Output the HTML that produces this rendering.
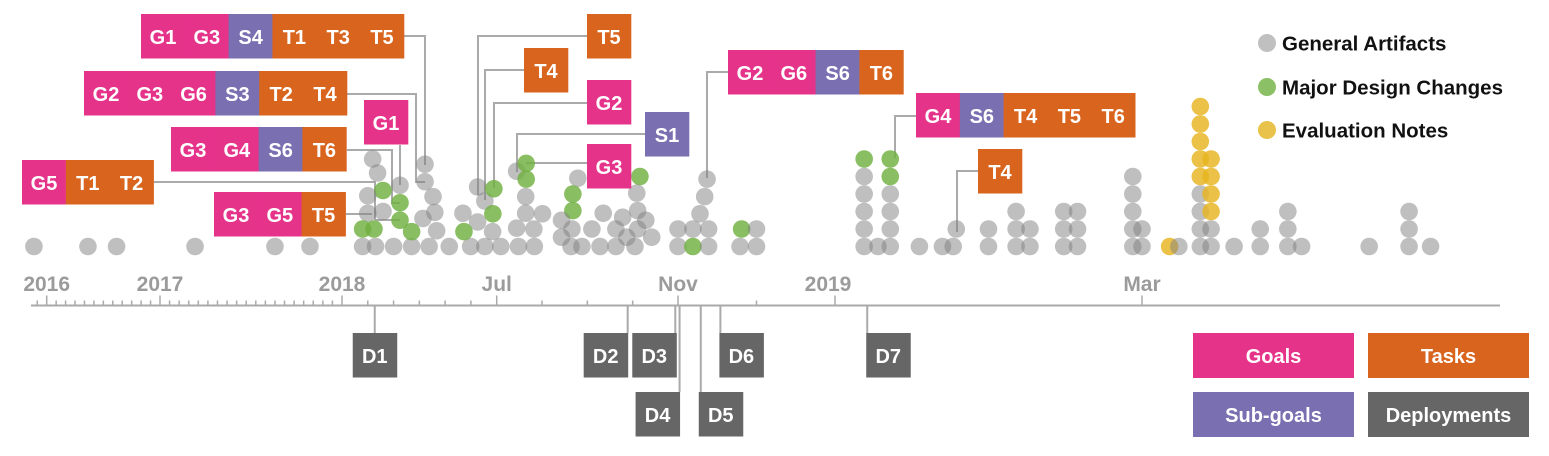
<!DOCTYPE html>
<html><head><meta charset="utf-8"><style>
body{margin:0;background:#fff;}
svg{display:block;font-family:"Liberation Sans",sans-serif;}
</style></head><body>
<svg id="chart" width="1549" height="456" viewBox="0 0 1549 456" xmlns="http://www.w3.org/2000/svg"></svg>
<script>
// ---- data ----
// months since Jan 2016 -> screen anchors of the (non-linear) timeline axis
const axisAnchorMonths = [-2, 0, 12, 24, 30, 34, 36, 38, 41];
const axisAnchorPx = [27.8, 46.7, 160, 342, 496.7, 678, 835, 1142, 1602.5];
const majorTickMonths = [0, 12, 24, 30, 34, 36, 38];
const majorTickLabels = ["2016", "2017", "2018", "Jul", "Nov", "2019", "Mar"];
const deployNames = ["D1","D2","D3","D4","D5","D6","D7"];
const deployMonths = [25.27, 32.89, 33.94, 34.02, 34.29, 34.54, 36.21];
const deployLevel = [0,0,0,1,1,0,0];
// artifacts: [month, stack row, type]  a=general, m=major design change, e=evaluation
const artifacts = [
 [-1.35,0,'a'],[4.37,0,'a'],[7.4,0,'a'],[14.31,0,'a'],[19.58,0,'a'],[21.89,0,'a'],
 [24.8,0,'a'],[25.3,0,'a'],[26.0,0,'a'],[26.7,0,'a'],[27.38,0,'a'],[28.16,0,'a'],[28.99,0,'a'],[29.54,0,'a'],
 [30.09,0,'a'],[30.48,0,'a'],[30.83,0,'a'],[31.64,0,'a'],[31.88,0,'a'],[32.28,0,'a'],[32.63,0,'a'],[33.05,0,'a'],
 [34.0,0,'a'],[34.19,0,'m'],[34.39,0,'a'],[34.79,0,'a'],[35.0,0,'a'],
 [25.19,5,'a'],[25.38,4.2,'a'],[25.59,3.2,'m'],[25.0,2.9,'a'],[26.25,3.5,'a'],[26.25,2.5,'m'],[25.0,1.9,'a'],
 [25.59,2,'a'],[26.25,1.5,'m'],[24.8,1,'m'],[25.24,1,'m'],[26.7,0.85,'m'],
 [27.22,4.7,'a'],[27.22,3.7,'a'],[27.53,2.85,'a'],[27.6,1.95,'a'],[27.14,1.6,'a'],[27.67,0.9,'a'],
 [28.69,1.9,'a'],[29.26,1.4,'a'],[28.73,0.85,'m'],[29.26,3.4,'a'],[29.54,2.6,'a'],[29.89,3.3,'m'],[29.85,1.87,'m'],[29.84,0.85,'a'],
 [30.44,4.3,'a'],[30.65,4.75,'m'],[30.65,3.85,'m'],[30.64,2.85,'a'],[30.64,1.9,'a'],[31.01,1.87,'a'],[30.44,1.05,'a'],[30.82,1,'a'],
 [31.79,3.9,'a'],[31.68,3,'m'],[31.68,2.05,'m'],[31.43,1.5,'a'],[31.66,1,'a'],[31.43,0.53,'a'],[32.1,1,'a'],[32.35,1.9,'a'],
 [32.78,1.67,'a'],[32.63,1,'a'],[32.87,0.53,'a'],
 [33.16,4,'m'],[33.09,3.05,'a'],[33.11,2.05,'a'],[33.29,1.5,'a'],[33.11,1,'a'],[33.42,0.53,'a'],
 [34.37,3.85,'a'],[34.34,2.85,'a'],[34.28,1.87,'a'],[34.0,1,'a'],[34.19,1,'a'],[34.39,1,'a'],[34.81,1,'m'],[35.0,1,'a'],
 [36.19,0,'a'],[36.19,1,'a'],[36.19,2,'a'],[36.19,3,'a'],[36.19,4,'a'],[36.19,5,'m'],
 [36.28,0,'a'],
 [36.36,0,'a'],[36.36,1,'a'],[36.36,2,'a'],[36.36,3,'a'],[36.36,4,'m'],[36.36,5,'m'],
 [36.55,0,'a'],[36.7,0,'a'],[36.77,0,'a'],[36.79,1,'a'],
 [37.0,0,'a'],[37.0,1,'a'],
 [37.18,0,'a'],[37.18,1,'a'],[37.18,2,'a'],[37.27,0,'a'],[37.27,1,'a'],
 [37.49,0,'a'],[37.49,1,'a'],[37.49,2,'a'],[37.58,0,'a'],[37.58,1,'a'],[37.58,2,'a'],
 [37.94,0,'a'],[37.94,1,'a'],[37.94,2,'a'],[37.94,3,'a'],[37.94,4,'a'],[38.0,0,'a'],[38.0,1,'a'],
 [38.18,0,'e'],[38.24,0,'a'],
 [38.38,0,'a'],[38.38,1,'a'],[38.38,2,'a'],[38.38,3,'a'],[38.38,4,'e'],[38.38,5,'e'],[38.38,6,'e'],[38.38,7,'e'],[38.38,8,'e'],
 [38.45,0,'a'],[38.45,1,'a'],[38.45,2,'e'],[38.45,3,'e'],[38.45,4,'e'],[38.45,5,'e'],
 [38.6,0,'a'],[38.77,0,'a'],[38.77,1,'a'],[38.95,0,'a'],[38.95,1,'a'],[38.95,2,'a'],[39.04,0,'a'],
 [39.48,0,'a'],[39.74,0,'a'],[39.74,1,'a'],[39.74,2,'a'],[39.88,0,'a']
];
// annotation label groups
const annoLabels = [
 ["G1","G3","S4","T1","T3","T5"],
 ["G2","G3","G6","S3","T2","T4"],
 ["G3","G4","S6","T6"],
 ["G1"],
 ["G5","T1","T2"],
 ["G3","G5","T5"],
 ["T5"],["T4"],["G2"],["S1"],["G3"],
 ["G2","G6","S6","T6"],
 ["G4","S6","T4","T5","T6"],
 ["T4"]
];
// ---- layout ----
const annoBox = [[141,14],[84,71],[171,127],[364,100],[22,160],[214,192],[587,14],[524,48],[587,80],[645,112],[587,144],[728,50],[916,93],[978,149]];
const annoPath = [
 "M404,36H425V165","M346,94H416V182H425","M347,150H392V203H400","M400,145V185","M154,182H375V220",
 "M346,214H372M375,220H400","M587,36H478V195","M524,70H485V200","M587,103H494V188","M645,134H517V172",
 "M587,163H526","M728,72H707V178","M916,116H895V158","M978,171H957V232"
];
const COL = {G:"#e6338a",T:"#d9641e",S:"#7a6fb0",D:"#666666"};
const DOT = {a:"rgba(128,128,128,0.5)",m:"rgba(112,176,64,0.82)",e:"rgba(230,180,30,0.82)"};
const NS = "http://www.w3.org/2000/svg";
const svg = document.getElementById("chart");
function mk(tag, attrs, parent){const e=document.createElementNS(NS,tag);for(const k in attrs)e.setAttribute(k,attrs[k]);(parent||svg).appendChild(e);return e;}
function xScale(t){
  for(let i=0;i<axisAnchorMonths.length-1;i++){
    const a=axisAnchorMonths[i],b=axisAnchorMonths[i+1];
    if(t<=b||i===axisAnchorMonths.length-2){return axisAnchorPx[i]+(t-a)/(b-a)*(axisAnchorPx[i+1]-axisAnchorPx[i]);}
  }
}
const baseY=246.5, rowH=17.5, R=8.8, axisY=305.5;
function yScale(r){return baseY-r*rowH;}

// axis
const axisG=mk("g",{});


mk("line",{x1:31,y1:axisY,x2:1500,y2:axisY,stroke:"#aaa","stroke-width":2},axisG);
const minor=[-1];
for(let m=1;m<12;m++)minor.push(m);
for(let k=1;k<19;k++)minor.push(12+k*12/19);
[25,26,27,28,29,31,32,33,35].forEach(m=>minor.push(m));
minor.forEach(t=>{const x=xScale(t);const l=mk("line",{x1:x,x2:x,y1:axisY-5,y2:axisY,stroke:"#aaa","stroke-width":1.5},axisG);

});
majorTickMonths.forEach((t,i)=>{const x=xScale(t);
 const l=mk("line",{x1:x,x2:x,y1:axisY-10,y2:axisY,stroke:"#aaa","stroke-width":1.5},axisG);
 
 
 const tx=mk("text",{x:x-(i===5?7:0),y:291,"text-anchor":"middle","font-size":21,"font-weight":"bold",fill:"#9b9b9b"},axisG);
 tx.textContent=majorTickLabels[i];
 
 
});

// deployments
deployNames.forEach((n,i)=>{
 const x=xScale(deployMonths[i]);const top=deployLevel[i]?392:333;
 const g=mk("g",{});
 
 
 mk("line",{x1:x,x2:x,y1:axisY,y2:top,stroke:"#aaa","stroke-width":2},g);
 let bx = x-22;
 if(n==="D2") bx=x-44; if(n==="D3") bx=x-43; if(n==="D4") bx=x-44; if(n==="D5") bx=x-2; if(n==="D6") bx=x-1; if(n==="D7") bx=x-1;
 mk("rect",{x:bx,y:top,width:44.5,height:44.5,fill:COL.D},g);
 const t=mk("text",{x:bx+22,y:top+30,"text-anchor":"middle","font-size":20,"font-weight":"bold",fill:"#fff"},g);t.textContent=n;
});

// connectors
annoPath.forEach(p=>{const e=mk("path",{d:p,fill:"none",stroke:"#aaa","stroke-width":2});

});

// dots
artifacts.forEach(d=>{
 const c=mk("circle",{cx:xScale(d[0]),cy:yScale(d[1]),r:R,fill:DOT[d[2]]});
 
 
});

// annotation boxes
annoLabels.forEach((labs,i)=>{
 const g=mk("g",{});
 
 
 const [x0,y0]=annoBox[i];
 labs.forEach((l,j)=>{
  mk("rect",{x:x0+j*43.8,y:y0,width:44.3,height:44.5,fill:COL[l[0]]},g);
  const t=mk("text",{x:x0+j*43.8+22,y:y0+30,"text-anchor":"middle","font-size":20,"font-weight":"bold",fill:"#fff"},g);
  t.textContent=l;
 });
});

// legend (dots)
[["a","General Artifacts",43],["m","Major Design Changes",87],["e","Evaluation Notes",130]].forEach(L=>{
 const g=mk("g",{});
 
 
 mk("circle",{cx:1267,cy:L[2],r:9,fill:L[0]==='a'?'#c0c0c0':(L[0]==='m'?'#8cc066':'#e9c24b')},g);
 const t=mk("text",{x:1282,y:L[2]+7.5,"font-size":20.5,"font-weight":"bold",fill:"#111"},g);t.textContent=L[1];
});
// legend (boxes)
[["Goals",COL.G,1193,333],["Tasks",COL.T,1368,333],["Sub-goals",COL.S,1193,392],["Deployments",COL.D,1368,392]].forEach(L=>{
 const g=mk("g",{});
 
 
 mk("rect",{x:L[2],y:L[3],width:161,height:45,fill:L[1]},g);
 const t=mk("text",{x:L[2]+80.5,y:L[3]+30,"text-anchor":"middle","font-size":20,"font-weight":"bold",fill:"#fff"},g);t.textContent=L[0];
});
</script>
</body></html>
